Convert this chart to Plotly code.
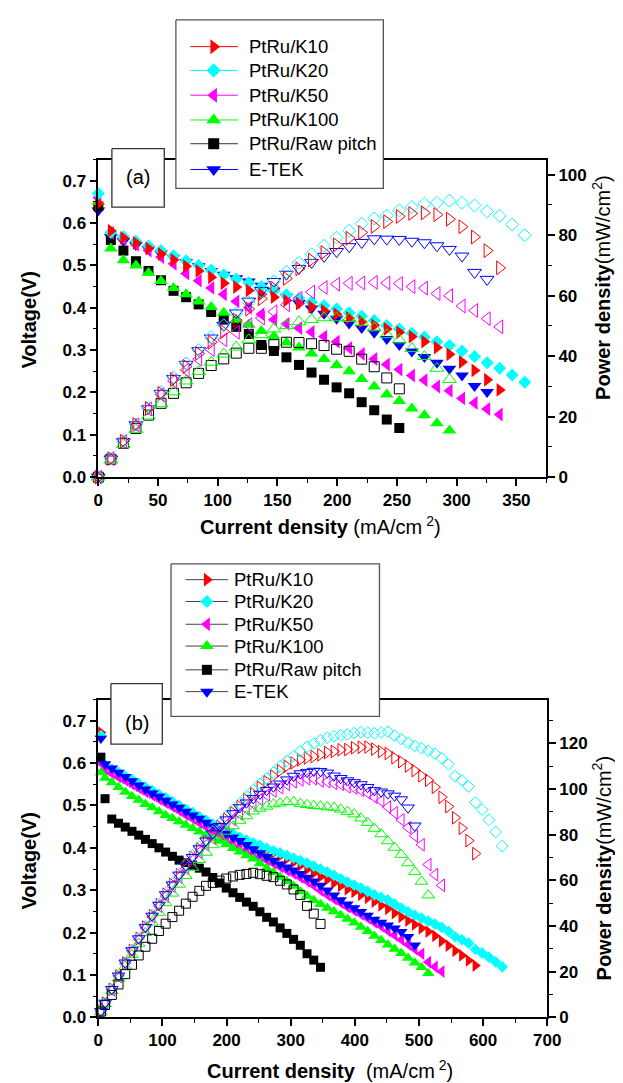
import plotly.graph_objects as go

W, H = 623, 1083
FONT = "Liberation Sans, Arial, Helvetica, sans-serif"

# ---------------- data ----------------
series_names = ["PtRu/K10", "PtRu/K20", "PtRu/K50", "PtRu/K100", "PtRu/Raw pitch", "E-TEK"]

# Panel (a) current density (mA/cm2)
current_a = [0, 10.5, 21, 31.5, 42, 52.5, 63, 73.5, 84, 94.5, 105, 115.5, 126, 136.5, 147,
             157.5, 168, 178.5, 189, 199.5, 210, 220.5, 231, 241.5, 252, 262.5, 273, 283.5,
             294, 304.5, 315, 325.5, 336, 346.5, 357]

volt_a_k10 = [0.645, 0.582, 0.565, 0.553, 0.54, 0.527, 0.513, 0.498, 0.487, 0.472, 0.458, 0.449,
              0.441, 0.432, 0.425, 0.417, 0.41, 0.402, 0.393, 0.385, 0.376, 0.367, 0.359, 0.35,
              0.342, 0.332, 0.32, 0.306, 0.29, 0.272, 0.252, 0.23, 0.206]
power_a_k10 = [0, 6.1, 11.9, 17.4, 22.7, 27.7, 32.3, 36.6, 40.9, 44.6, 48.1, 51.9, 55.6, 59.0,
               62.5, 65.7, 68.9, 71.8, 74.3, 76.8, 79.0, 80.9, 82.9, 84.5, 86.2, 87.2, 87.4,
               86.8, 85.3, 82.8, 79.4, 74.9, 69.2]

volt_a_k20 = [0.67, 0.578, 0.568, 0.557, 0.546, 0.535, 0.523, 0.511, 0.5, 0.489, 0.478, 0.468,
              0.459, 0.45, 0.44, 0.431, 0.422, 0.413, 0.405, 0.397, 0.388, 0.38, 0.37, 0.358,
              0.35, 0.34, 0.331, 0.32, 0.311, 0.298, 0.285, 0.27, 0.257, 0.241, 0.224]
power_a_k20 = [0, 6.1, 11.9, 17.5, 22.9, 28.1, 32.9, 37.6, 42.0, 46.2, 50.2, 54.1, 57.8, 61.4,
               64.7, 67.9, 70.9, 73.7, 76.5, 79.2, 81.5, 83.8, 85.5, 86.5, 88.2, 89.3, 90.4,
               90.7, 91.4, 90.7, 89.8, 87.9, 86.4, 83.5, 80.0]

volt_a_k50 = [0.66, 0.577, 0.562, 0.549, 0.535, 0.52, 0.504, 0.481, 0.464, 0.447, 0.432, 0.415,
              0.4, 0.385, 0.372, 0.362, 0.352, 0.343, 0.332, 0.32, 0.305, 0.291, 0.279, 0.266,
              0.254, 0.24, 0.229, 0.214, 0.204, 0.186, 0.175, 0.161, 0.148]
power_a_k50 = [0, 6.1, 11.8, 17.3, 22.5, 27.3, 31.8, 35.4, 39.0, 42.2, 45.4, 47.9, 50.4, 52.6,
               54.7, 57.0, 59.1, 61.2, 62.7, 63.8, 64.1, 64.2, 64.4, 64.2, 64.0, 63.0, 62.5,
               60.7, 60.0, 56.6, 55.1, 52.4, 49.7]

volt_a_k100 = [0.65, 0.54, 0.512, 0.5, 0.482, 0.463, 0.447, 0.432, 0.415, 0.402, 0.388, 0.372,
               0.36, 0.345, 0.333, 0.318, 0.306, 0.292, 0.279, 0.264, 0.25, 0.232, 0.214, 0.195,
               0.18, 0.162, 0.146, 0.127, 0.11]
power_a_k100 = [0, 5.7, 10.8, 15.8, 20.2, 24.3, 28.2, 31.8, 34.9, 38.0, 40.7, 43.0, 45.4, 47.1,
                49.0, 50.1, 51.4, 52.1, 52.7, 52.7, 52.5, 51.2, 49.4, 47.1, 45.4, 42.5, 39.9,
                36.0, 32.3]

volt_a_raw = [0.64, 0.56, 0.535, 0.51, 0.487, 0.465, 0.44, 0.425, 0.408, 0.39, 0.372, 0.355,
              0.338, 0.312, 0.298, 0.283, 0.265, 0.247, 0.23, 0.212, 0.198, 0.177, 0.158, 0.136,
              0.116]
power_a_raw = [0, 5.9, 11.2, 16.1, 20.5, 24.4, 27.7, 31.2, 34.3, 36.9, 39.1, 41.0, 42.6, 42.6,
               43.8, 44.6, 44.5, 44.1, 43.5, 42.3, 41.6, 39.0, 36.5, 32.8, 29.2]

volt_a_etek = [0.63, 0.567, 0.558, 0.548, 0.538, 0.528, 0.518, 0.508, 0.498, 0.487, 0.478, 0.47,
               0.462, 0.452, 0.44, 0.426, 0.411, 0.398, 0.386, 0.374, 0.363, 0.352, 0.341, 0.326,
               0.312, 0.297, 0.284, 0.27, 0.256, 0.24, 0.215, 0.201]
power_a_etek = [0, 6.0, 11.7, 17.3, 22.6, 27.7, 32.6, 37.3, 41.8, 46.0, 50.2, 54.3, 58.2, 61.7,
                64.7, 67.1, 69.0, 71.0, 73.0, 74.6, 76.2, 77.6, 78.8, 78.7, 78.6, 78.0, 77.5,
                76.5, 75.3, 73.1, 67.7, 65.4]

# Panel (b) current density (mA/cm2)
current_b = [4, 10.5, 21, 31.5, 42, 52.5, 63, 73.5, 84, 94.5, 105, 115.5, 126, 136.5, 147,
             157.5, 168, 178.5, 189, 199.5, 210, 220.5, 231, 241.5, 252, 262.5, 273, 283.5,
             294, 304.5, 315, 325.5, 336, 346.5, 357, 367.5, 378, 388.5, 399, 409.5, 420,
             430.5, 441, 451.5, 462, 472.5, 483, 493.5, 504, 514.5, 525, 535.5, 546, 556.5,
             567, 577.5, 588, 598.5, 609, 619.5, 630]

volt_b_k10 = [0.672, 0.592, 0.583, 0.574, 0.565, 0.556, 0.547, 0.538, 0.53, 0.522, 0.513, 0.504,
              0.495, 0.486, 0.477, 0.468, 0.459, 0.45, 0.443, 0.435, 0.427, 0.419, 0.413, 0.406,
              0.4, 0.393, 0.387, 0.381, 0.374, 0.366, 0.358, 0.349, 0.34, 0.332, 0.325, 0.317,
              0.31, 0.302, 0.296, 0.289, 0.282, 0.273, 0.264, 0.256, 0.246, 0.237, 0.228, 0.219,
              0.21, 0.202, 0.192, 0.18, 0.169, 0.157, 0.146, 0.134, 0.122]
power_b_k10 = [2.7, 6.2, 12.2, 18.1, 23.7, 29.2, 34.5, 39.5, 44.5, 49.3, 53.9, 58.2, 62.4, 66.3,
               70.1, 73.7, 77.1, 80.3, 83.7, 86.8, 89.7, 92.4, 95.4, 98.0, 100.8, 103.2, 105.7,
               108.0, 110.0, 111.4, 112.8, 113.6, 114.2, 115.0, 116.0, 116.5, 117.2, 117.3,
               118.1, 118.3, 118.4, 117.5, 116.4, 115.6, 113.7, 112.0, 110.1, 108.1, 105.8,
               103.9, 100.8, 96.4, 92.3, 87.4, 82.8, 77.4, 71.7]

volt_b_k20 = [0.665, 0.595, 0.586, 0.578, 0.569, 0.561, 0.552, 0.543, 0.535, 0.526, 0.518, 0.509,
              0.5, 0.491, 0.483, 0.474, 0.465, 0.456, 0.449, 0.441, 0.433, 0.425, 0.418, 0.412,
              0.406, 0.399, 0.393, 0.388, 0.382, 0.376, 0.37, 0.364, 0.357, 0.35, 0.343, 0.335,
              0.327, 0.319, 0.312, 0.305, 0.297, 0.289, 0.283, 0.277, 0.267, 0.258, 0.249, 0.241,
              0.234, 0.227, 0.22, 0.212, 0.203, 0.19, 0.183, 0.175, 0.16, 0.152, 0.142, 0.131,
              0.119]
power_b_k20 = [2.7, 6.2, 12.3, 18.2, 23.9, 29.5, 34.8, 39.9, 44.9, 49.7, 54.4, 58.8, 63.0, 67.0,
               71.0, 74.7, 78.1, 81.4, 84.9, 88.0, 90.9, 93.7, 96.6, 99.5, 102.3, 104.7, 107.3,
               110.0, 112.3, 114.5, 116.6, 118.5, 120.0, 121.3, 122.5, 123.1, 123.6, 123.9,
               124.5, 124.9, 124.7, 124.4, 124.8, 125.1, 123.4, 121.9, 120.3, 118.9, 117.9,
               116.8, 115.5, 113.5, 110.8, 105.7, 103.8, 101.1, 94.1, 91.0, 86.5, 81.2, 75.0]

volt_b_k50 = [0.6, 0.585, 0.576, 0.567, 0.559, 0.55, 0.541, 0.532, 0.524, 0.515, 0.506, 0.497,
              0.488, 0.478, 0.469, 0.459, 0.45, 0.44, 0.431, 0.422, 0.413, 0.404, 0.395, 0.387,
              0.379, 0.371, 0.363, 0.355, 0.347, 0.339, 0.33, 0.321, 0.311, 0.299, 0.289, 0.279,
              0.27, 0.26, 0.252, 0.243, 0.234, 0.224, 0.215, 0.204, 0.194, 0.183, 0.172, 0.161,
              0.15, 0.13, 0.119, 0.108]
power_b_k50 = [2.4, 6.1, 12.1, 17.9, 23.5, 28.9, 34.1, 39.1, 44.0, 48.7, 53.1, 57.4, 61.5, 65.2,
               68.9, 72.3, 75.6, 78.5, 81.5, 84.2, 86.7, 89.1, 91.2, 93.5, 95.5, 97.4, 99.1,
               100.6, 102.0, 103.2, 104.0, 104.5, 104.5, 103.6, 103.2, 102.5, 102.1, 101.0,
               100.5, 99.5, 98.3, 96.4, 94.8, 92.1, 89.6, 86.5, 83.1, 79.5, 75.6, 66.9, 62.5, 57.8]

volt_b_k100 = [0.578, 0.565, 0.554, 0.543, 0.532, 0.522, 0.513, 0.503, 0.495, 0.486, 0.477, 0.47,
               0.462, 0.454, 0.446, 0.438, 0.43, 0.423, 0.416, 0.408, 0.399, 0.391, 0.382, 0.374,
               0.363, 0.352, 0.342, 0.331, 0.321, 0.31, 0.297, 0.286, 0.276, 0.267, 0.258, 0.25,
               0.241, 0.232, 0.223, 0.213, 0.203, 0.192, 0.182, 0.171, 0.161, 0.151, 0.14, 0.129,
               0.118, 0.104]
power_b_k100 = [2.3, 5.9, 11.6, 17.1, 22.3, 27.4, 32.3, 37.0, 41.6, 45.9, 50.1, 54.3, 58.2, 62.0,
                65.6, 69.0, 72.2, 75.5, 78.6, 81.4, 83.8, 86.2, 88.2, 90.3, 91.5, 92.4, 93.4,
                93.8, 94.4, 94.4, 93.6, 93.1, 92.7, 92.5, 92.1, 91.9, 91.1, 90.1, 89.0, 87.2,
                85.3, 82.7, 80.3, 77.2, 74.4, 71.3, 67.6, 63.7, 59.5, 53.5]

volt_b_raw = [0.614, 0.516, 0.468, 0.458, 0.449, 0.439, 0.43, 0.42, 0.41, 0.4, 0.39, 0.38, 0.371,
              0.365, 0.359, 0.352, 0.343, 0.33, 0.317, 0.305, 0.294, 0.283, 0.272, 0.262, 0.249,
              0.236, 0.225, 0.211, 0.198, 0.184, 0.17, 0.15, 0.135, 0.118]
power_b_raw = [2.5, 5.4, 9.8, 14.4, 18.9, 23.0, 27.1, 30.9, 34.4, 37.8, 41.0, 43.9, 46.7, 49.8,
               52.8, 55.4, 57.6, 58.9, 59.9, 60.8, 61.7, 62.4, 62.8, 63.3, 62.7, 62.0, 61.4, 59.8,
               58.2, 56.0, 53.6, 48.8, 45.4, 40.9]

volt_b_etek = [0.658, 0.598, 0.588, 0.578, 0.568, 0.558, 0.548, 0.538, 0.529, 0.521, 0.512,
               0.503, 0.495, 0.486, 0.477, 0.469, 0.46, 0.451, 0.443, 0.434, 0.425, 0.417, 0.407,
               0.397, 0.388, 0.379, 0.37, 0.361, 0.354, 0.347, 0.339, 0.33, 0.321, 0.311, 0.3,
               0.288, 0.277, 0.267, 0.258, 0.249, 0.24, 0.231, 0.224, 0.217, 0.21, 0.202, 0.19,
               0.17]
power_b_etek = [2.6, 6.3, 12.3, 18.2, 23.9, 29.3, 34.5, 39.5, 44.4, 49.2, 53.8, 58.1, 62.4, 66.3,
                70.1, 73.9, 77.3, 80.5, 83.7, 86.6, 89.3, 91.9, 94.0, 95.9, 97.8, 99.5, 101.0,
                102.3, 104.1, 105.7, 106.8, 107.4, 107.9, 107.8, 107.1, 105.8, 104.7, 103.7,
                102.9, 102.0, 100.8, 99.4, 98.8, 98.0, 97.0, 95.4, 91.8, 83.9]

volt_a = [volt_a_k10, volt_a_k20, volt_a_k50, volt_a_k100, volt_a_raw, volt_a_etek]
power_a = [power_a_k10, power_a_k20, power_a_k50, power_a_k100, power_a_raw, power_a_etek]
volt_b = [volt_b_k10, volt_b_k20, volt_b_k50, volt_b_k100, volt_b_raw, volt_b_etek]
power_b = [power_b_k10, power_b_k20, power_b_k50, power_b_k100, power_b_raw, power_b_etek]

# ---------------- styles ----------------
colors = ["#FF0000", "#00FFFF", "#FF00FF", "#00FF00", "#000000", "#0000FF"]
symbols = ["triangle-right", "diamond", "triangle-left", "triangle-up", "square", "triangle-down"]
size_a = [12, 10, 12, 12, 10, 12]
size_b = [11, 9, 11, 11, 9, 11]

fig = go.Figure()


def add_series(xs, ys, yaxis, xaxis, i, size, filled):
    sym = symbols[i] if filled else symbols[i] + "-open"
    fig.add_trace(go.Scatter(
        x=xs[:len(ys)], y=ys, xaxis=xaxis, yaxis=yaxis, mode="markers",
        cliponaxis=False, showlegend=False, name=series_names[i],
        marker=dict(symbol=sym, size=size[i], color=colors[i],
                    line=dict(width=1 if not filled else 0, color=colors[i]))))


# Panel (a): drawn so that K10 ends up on top
for i in [5, 4, 3, 2, 1, 0]:
    add_series(current_a, volt_a[i], "y", "x", i, size_a, True)
for i in [5, 4, 3, 2, 1, 0]:
    add_series(current_a, power_a[i], "y2", "x", i, size_a, False)

# Panel (b)
for i in range(6):
    add_series(current_b, volt_b[i], "y3", "x2", i, size_b, True)
for i in range(6):
    add_series(current_b, power_b[i], "y4", "x2", i, size_b, False)

# ---------------- overlay (pixel coordinates) for legends / label boxes ----------------
def box(x0, x1, y0, y1, lc, lw):
    fig.add_trace(go.Scatter(
        x=[x0, x1, x1, x0, x0], y=[y0, y0, y1, y1, y0], xaxis="x3", yaxis="y5",
        mode="lines", fill="toself", fillcolor="white", showlegend=False,
        line=dict(color=lc, width=lw), hoverinfo="skip"))


box(168, 382, 12, 182, "#555555", 1.3)
box(102, 156, 142, 201, "#333333", 1.3)
box(163, 378, 561, 715, "#555555", 1.3)
box(101, 154, 682, 743, "#333333", 1.3)

legend_a_y = [39, 63, 88, 113, 137, 163]
legend_b_y = [577, 599, 622, 644, 668, 690]
LEG_FONT = dict(family=FONT, size=18.5, color="black")

annotations = []
for i in range(6):
    ya = legend_a_y[i]
    fig.add_trace(go.Scatter(x=[183, 232], y=[ya, ya], xaxis="x3", yaxis="y5", mode="lines",
                             line=dict(color=colors[i] if i != 4 else "#333333", width=1),
                             showlegend=False, hoverinfo="skip"))
    fig.add_trace(go.Scatter(x=[207], y=[ya], xaxis="x3", yaxis="y5", mode="markers",
                             marker=dict(symbol=symbols[i], size=size_a[i] + 1, color=colors[i]),
                             showlegend=False, hoverinfo="skip"))
    annotations.append(dict(x=241, y=ya, xref="x3", yref="y5", text=series_names[i],
                            showarrow=False, xanchor="left", yanchor="middle", font=LEG_FONT))
    yb = legend_b_y[i]
    fig.add_trace(go.Scatter(x=[178, 222], y=[yb, yb], xaxis="x3", yaxis="y5", mode="lines",
                             line=dict(color="#444444", width=1),
                             showlegend=False, hoverinfo="skip"))
    fig.add_trace(go.Scatter(x=[200], y=[yb], xaxis="x3", yaxis="y5", mode="markers",
                             marker=dict(symbol=symbols[i], size=size_a[i], color=colors[i]),
                             showlegend=False, hoverinfo="skip"))
    annotations.append(dict(x=226, y=yb, xref="x3", yref="y5", text=series_names[i],
                            showarrow=False, xanchor="left", yanchor="middle", font=LEG_FONT))

title_font = dict(family=FONT, size=20, color="black")
annotations += [
    dict(x=129, y=171, text="(a)", font=dict(family=FONT, size=20, color="black")),
    dict(x=128, y=722, text="(b)", font=dict(family=FONT, size=20, color="black")),
    dict(x=17, y=315, text="<b>Voltage(V)</b>", textangle=-90, font=title_font),
    dict(x=17, y=861, text="<b>Voltage(V)</b>", textangle=-90, font=title_font),
    dict(x=607, y=282, text="<b>Power density</b>(mW/cm<sup>2</sup>)", textangle=-90, font=title_font),
    dict(x=608, y=868, text="<b>Power density</b>(mW/cm<sup>2</sup>)", textangle=-90, font=title_font),
    dict(x=317, y=522, text="<b>Current density</b> (mA/cm<sup> 2</sup>)", font=title_font),
    dict(x=327, y=1071, text="<b>Current density</b>  (mA/cm<sup> 2</sup>)", font=title_font),
]
for a in annotations:
    a.setdefault("xref", "x3")
    a.setdefault("yref", "y5")
    a.setdefault("showarrow", False)

# ---------------- axes ----------------
tickfont = dict(family=FONT, size=17, color="black", weight="bold")


def ax(domain, rng, dtick, minor_dtick, anchor, fmt=None, side=None, overlaying=None, mirror=False):
    d = dict(domain=domain, range=rng, dtick=dtick, tick0=0, anchor=anchor,
             showline=True, linecolor="black", linewidth=1.5, mirror=mirror,
             ticks="outside", ticklen=7, tickwidth=1.5, tickcolor="black",
             showgrid=False, zeroline=False, tickfont=tickfont, fixedrange=True,
             minor=dict(ticks="outside", ticklen=4, tickwidth=1.2, tickcolor="black",
                        dtick=minor_dtick, tick0=0, showgrid=False))
    if fmt:
        d["tickformat"] = fmt
    if side:
        d["side"] = side
    if overlaying:
        d["overlaying"] = overlaying
        d.pop("domain")
    return d


xa_dom = [88 / W, 550 / W]
xb_dom = [88 / W, 551 / W]
ya_dom = [1 - 473.5 / H, 1 - 153 / H]
yb_dom = [1 - 1018.7 / H, 1 - 698 / H]

fig.update_layout(
    width=W, height=H, margin=dict(l=0, r=0, t=0, b=0),
    paper_bgcolor="white", plot_bgcolor="rgba(0,0,0,0)", showlegend=False,
    font=dict(family=FONT, color="black"),
    xaxis=ax(xa_dom, [0, 375], 50, 25, "y", mirror=True),
    yaxis=ax(ya_dom, [0, 0.75], 0.1, 0.05, "x", fmt=".1f"),
    yaxis2=ax(None, [0, 105], 20, 10, "x", side="right", overlaying="y"),
    xaxis2=ax(xb_dom, [0, 700], 100, 50, "y3", mirror=True),
    yaxis3=ax(yb_dom, [0, 0.75], 0.1, 0.05, "x2", fmt=".1f"),
    yaxis4=ax(None, [0, 139.2], 20, 10, "x2", side="right", overlaying="y3"),
    xaxis3=dict(domain=[0, 1], range=[0, W], visible=False, showticklabels=False,
                anchor="y5", fixedrange=True),
    yaxis5=dict(domain=[0, 1], range=[H, 0], visible=False, showticklabels=False,
                anchor="x3", fixedrange=True),
    annotations=annotations,
)

fig.write_html("out.html")
